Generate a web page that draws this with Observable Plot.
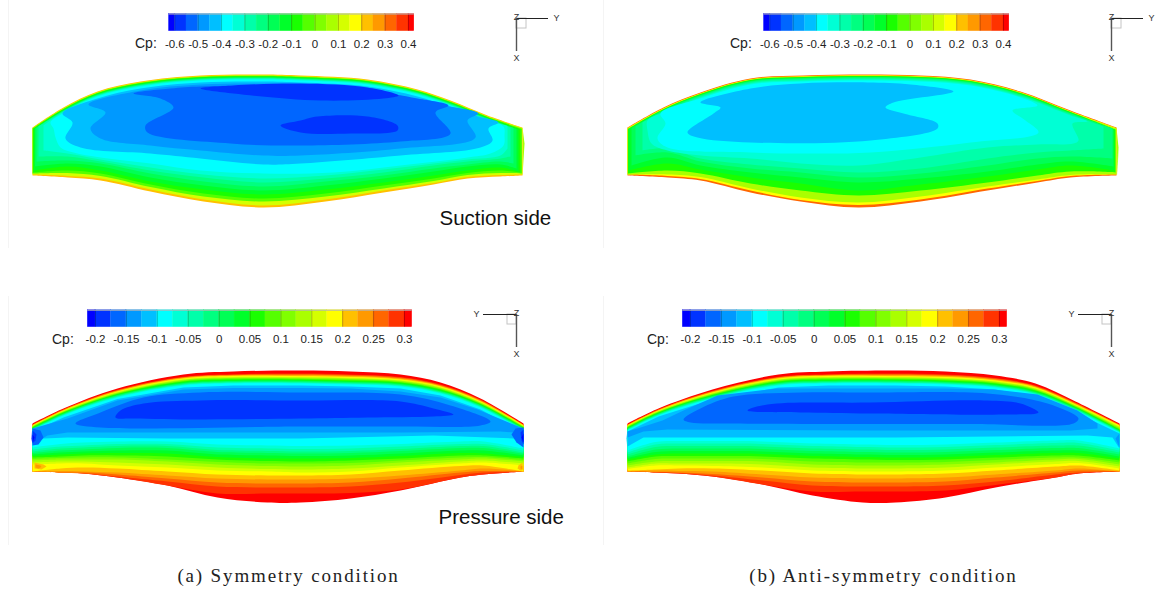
<!DOCTYPE html>
<html>
<head>
<meta charset="utf-8">
<script src="https://cdn.jsdelivr.net/npm/d3@7"></script>
<script src="https://cdn.jsdelivr.net/npm/@observablehq/plot@0.6"></script>
<style>
html,body{margin:0;padding:0;background:#fff}
#page{position:relative;width:1156px;height:592px;overflow:hidden;background:#fff}
#page svg{position:absolute;background:transparent;max-width:none}
.cap{position:absolute;top:565px;font-family:"Liberation Serif",serif;font-size:19px;color:#222;transform:translateX(-50%);letter-spacing:1.85px;white-space:nowrap}
</style>
</head>
<body>
<div id="page"></div>
<script>
// ---- colour bands ----
const palette = ["#0000ff","#0033ff","#0066ff","#0099ff","#00bfff","#00ffff","#00ffd5","#00ffaa","#00ff80","#00ff55","#00ff2a","#1aff00","#55ff00","#80ff00","#aaff00","#d5ff00","#ffff00","#ffc000","#ff9900","#ff6600","#ff3300","#ff0000"];
const suctionThresholds = [-0.6,-0.55,-0.5,-0.45,-0.4,-0.35,-0.3,-0.25,-0.2,-0.15,-0.1,-0.05,0,0.05,0.1,0.15,0.2,0.25,0.3,0.35,0.4];
const pressureThresholds = [-0.2,-0.175,-0.15,-0.125,-0.1,-0.075,-0.05,-0.025,0,0.025,0.05,0.075,0.1,0.125,0.15,0.175,0.2,0.225,0.25,0.275,0.3];
const suctionTicks = [-0.6,-0.5,-0.4,-0.3,-0.2,-0.1,0,0.1,0.2,0.3,0.4];
const pressureTicks = [-0.2,-0.15,-0.1,-0.05,0,0.05,0.1,0.15,0.2,0.25,0.3];

// ---- symmetry condition, suction side ----
const symSuctionTopX = [32,63,97,140,200,263,300,367,417,450,487,522];
const symSuctionBotX = [522,500,467,433,383,325,263,203,150,100,67,32];
const symSuctionUnder = [[0.075,[522,127,524,143,522,175]]];
const symSuctionBands = [
[0.225,32,522,[127,107,91,81,75,74,75,79,89,100,115,127],[175,176,178,184,192,201,207,201,191,180,177,175]],
[0.125,32,522,[127.5,107.7,91.7,81.7,75.7,74.7,75.7,79.7,89.7,100.7,115.7,127.5],[174,174.5,176.5,182.5,190,199,205,199,189,178,175.5,174]],
[-0.025,32,521.5,[128,108.3,92.3,82.3,76.3,75.3,76.3,80.3,90.3,101.3,116.3,128],[173,172.5,174.5,180.5,188,196,201,196,186.5,175.5,172.5,173]],
[-0.075,32.5,520,[128.5,108.8,92.8,82.8,76.8,75.8,76.8,80.8,90.8,101.8,116.8,128.5],[172,170,172.5,178,185,193,198,193,184,173,170,172]],
[-0.125,33.5,518,[128.5,109.3,93.3,83.3,77.3,76.3,77.3,81.3,91.3,102.3,117.3,129],[171,167,170,175,182,189,194,189,181,170,166,170]],
[-0.175,34.5,516,[128,109.8,93.8,83.8,77.8,76.8,77.8,81.8,91.8,102.8,117.8,128.5],[168,164,166,171,178,185,190,185,177,166,163,166]],
[-0.225,36,513,[127.5,110.3,94.3,84.3,78.3,77.3,78.3,82.3,92.3,103.3,118.3,127.5],[163,161,164,168,175,181,186,181,173,163,160,161]],
[-0.275,38,510,[126,110.8,94.8,84.8,78.8,77.8,78.8,82.8,92.8,103.8,118.8,127],[156,158,161,165,172,178,182,177,170,161,156,156]],
[-0.325,43,507,[125,111.3,95.3,85.3,79.3,78.3,79.3,83.3,93.3,104.3,119.3,125.5],[148,155,159,163,169,175,178,174,167,159,153,150]]
];
const symSuctionLobes = [
[-0.375,[50,122,63,112.5,97,96,140,86,200,80,263,79,300,80,367,84,417,94,450,105,487,120,503,126,504,135,503,145,490,153,467,157,400,165,333,172,263,173,200,170,150,163,100,157,73,152,60,147,55,137,53,128]],
[-0.425,[62,113,97,98,140,88,200,82,263,81,300,82,367,86,417,96,450,107,478,116,498,122,488,128,492,140,480,147,400,155,300,163,263,164,200,158,150,153,80,147,65,138,72,122]],
[-0.475,[88,104,140,90,200,84,263,83,300,84,367,88,417,99,450,106,478,113,467,120,475,137,400,148,300,155,263,155,200,150,150,145,100,138,90,128,105,112]],
[-0.525,[133,93,170,88,200,86,263,85,300,85,367,90,417,98,448,105,435,112,450,133,400,141,300,145,230,143,147,132,145,125,173,107,160,98]],
[-0.575,[200,88,233,85,300,83,367,87,398,95,383,98,320,100,233,93]],
[-0.575,[280,125,300,120,317,116,367,116,397,125,397,130,350,133,300,132]]
];

// ---- anti-symmetry condition, suction side ----
const antiSuctionTopX = [32,68,105,155,208,272,325,375,425,475,521];
const antiSuctionBotX = [522,475,442,392,325,263,205,155,105,72,32];
const antiSuctionUnder = [[0.075,[521,127,523,147,522,175]]];
const antiSuctionBands = [
[0.325,32,521,[127,107,92,78,75,74,75,79,91,110,127],[175,177,182,190,201,207,201,192,180,177,175]],
[0.175,32,521,[127.5,107.7,92.7,78.7,75.7,74.7,75.7,79.7,91.7,110.7,127.5],[174,175.5,180.5,188,199,204.5,199.5,190,178.5,175.5,174]],
[0.075,32,521,[128,108.2,93.2,79.2,76.2,75.2,76.2,80.2,92.2,111.2,128],[174,174.5,179,186,196,202,197,188,176.5,174,174]],
[-0.075,32.5,520,[128.5,108.7,93.5,79.5,76.5,75.5,76.5,80.5,92.5,111.5,129],[172,171,175,182,190,195,190,183,173,170,173]],
[-0.125,33,519,[128.5,109,94,80,77,76,77,81,93,112,129],[170,165,169,176,184,190,183,177,169,163,170]],
[-0.175,36,518,[127.5,109.5,94.5,80.5,77.5,76.5,77.5,81.5,93.5,112.5,129],[166,161,164,171,178,182,177,172,165,157,165]],
[-0.225,40,517,[126,110,95,81,78,77,78,82,94,113,128],[158,156,158,165,173,177,172,168,161,152,155]],
[-0.275,47,508,[122,111,96,82,79,78,79,83,95,114,126],[148,150,152,158,168,172,168,164,158,148,150]]
];
const antiSuctionLobes = [
[-0.325,[52,120,68,112,105,97,155,83,208,80,272,79,325,80,375,84,425,96,475,115,492,121,477,123,483,140,478,143,442,144,392,147,325,157,263,165,205,163,155,158,105,155,72,150,56,143,52,130]],
[-0.375,[65,113,105,98,155,84,208,81,272,80,325,81,375,85,425,97,442,105,417,110,430,120,443,132,375,142,275,152,205,153,155,152,72,147,62,138,70,123]],
[-0.425,[105,102,155,88,205,83,272,82,315,84,358,91,298,102,290,107,308,113,342,123,342,128,275,140,155,142,102,137,92,132,118,113,125,107]]
];

// ---- symmetry condition, pressure side ----
const symPressureTopX = [32,63,117,183,233,300,350,400,440,480,523];
const symPressureBotX = [523,483,460,400,350,300,267,217,167,117,83,60,33];
const symPressureUnder = [[-0.2125,[32,423,31,438,32,445]]];
const symPressureBands = [
[0.3125,32,523,[423,408,388,374,371,370,371,374,382,398,423],[471,474,477,490,498,502,502,497,485,477,473,472,471]],
[0.2875,32,523,[424,408.8,389.3,376.3,373.7,373,374,376.5,384,399,424],[471,474,477,489,492.5,493,493,493,485,477,473,472,471]],
[0.2625,32,523,[424.2,409,389.7,376.7,374.2,373.7,374.6,377.1,384.5,399.5,424.2],[471,472,474.5,482,486,487,487,486,481,476,473,472,471]],
[0.2375,32,523,[424.5,409.4,390.1,377.1,374.6,374.3,375.2,377.7,385,400,424.5],[471,470.5,472,478,482,483,483,482,478,474,472,472,471]],
[0.2125,32,523,[424.8,409.7,390.5,377.5,375,375,375.8,378.3,385.5,400.5,424.8],[471,468,470,475,478,479,479,478,475,472,471,470.5,471]],
[0.1875,32,523,[425,410,391,378,375.5,375.7,376.5,379,386,401,425],[471,465,465.5,470,474,475,475,474,471,468,467,468,471]],
[0.1625,32,523,[425.4,410.4,391.5,378.6,376.2,376.4,377.2,379.6,386.6,401.5,425.4],[465,462,463,467,471,472,471,470,467,465,463,463,464]],
[0.1375,32,523,[425.8,410.8,392,379.2,376.9,377,377.9,380.2,387.2,402,425.8],[463,460,461,465,468,469,468.5,467,464,462,461,461,462]],
[0.1125,32,523,[426.2,411.2,392.5,379.8,377.6,377.7,378.6,380.8,387.8,402.5,426.2],[461,458,459,462,465,466,465.5,464,461,459,459,459,460]],
[0.0875,32,523,[426.6,411.6,393,380.4,378.3,378.3,379.3,381.4,388.4,403,426.6],[459.5,456.5,457,460,462.5,463,463,461.5,459,457,457,457.5,458.5]],
[0.0625,32,523,[427,412,393.5,381,379,379,380,382,389,403.5,427],[458,455,455,458,460,461,460.5,459,456,455,455,456,457]],
[0.0375,32,523,[427.5,412.5,394,381.7,379.7,379.7,380.7,382.7,389.7,404,427.5],[456.5,453,452.5,455.5,457.5,458,458,456.5,453,452.5,453,454,455.5]],
[0.0125,32,523,[428,413,394.5,382.4,380.4,380.3,381.4,383.4,390.4,404.5,428],[455,450,450,453,455,455.5,455,454,450,450,451,452,454]],
[-0.0125,32,523,[428.5,413.5,395.1,383,381,381,382,384,391,405,428.5],[453.5,447.5,447.5,450.5,452.5,453,452.5,451.5,447.5,447.5,449,450,452.5]],
[-0.0375,32,523,[429,414,395.7,383.7,381.7,381.7,382.7,384.7,391.7,405.7,429],[452,445.5,445.5,448.5,450.5,451,450.5,449.5,445.5,445.5,447,448,451]],
[-0.0625,32,523,[429.5,414.5,396.3,384.3,382.3,382.3,383.3,385.3,392.3,406.3,429.5],[450,443.5,443.5,446,448,448.5,448,447,443.5,443.5,445,446,449]],
[-0.0875,32,523,[430,415,397,385,383,383,384,386,393,407,430],[448,441,441,443.5,445,445.5,445,444,441,441,442,443.5,447]]
];
const symPressureEdges = [
[-0.1125,[32,431,63,417,117,398.5,183,387,233,385,300,385,350,386,400,388,440,395,480,409,523,432,523,444,513,438,433,435,300,438,167,438,67,437,43,438,32,445]],
[-0.1375,[32,428,67,418,117,400,183,389,233,387.5,300,387.5,350,388,400,391,440,397,477,409,513,424,523,428,523,442,513,432,500,431,400,432,300,432,167,432,67,432,47,435,33,443]],
[-0.1625,[32,428,40,430,43,437,38,444,32,445]],
[-0.1625,[523,427,515,428,511,434,516,442,523,447]],
[-0.1875,[32,430,36,434,35,440,32,443]],
[-0.1875,[523,429,520,432,521,440,523,444]],
[-0.2125,[32,434,34,437,32,442]],
[-0.2125,[523,433,521,437,523,442]],
[0.2125,[34,462,43,464,46,466,41,469,34,468]],
[0.2375,[35,464,40,465,41,466.5,38,468,35,467]],
[0.2125,[522,462,518,465,517,468,520,470,522,470]],
[0.2375,[522,465,520,466,520,468,522,469]]
];
const symPressureLobes = [
[-0.1625,[75,423,100,412,143,397,200,392,300,392,400,394,450,405,490,421,480,425,400,426,300,426,100,427]],
[-0.1875,[115,417,120,410,143,403,200,400,300,400,400,401,433,408,453,414,433,416,367,417,300,418,200,419,133,418]]
];

// ---- anti-symmetry condition, pressure side ----
const antiPressureTopX = [32,63,117,183,233,300,350,400,440,480,523];
const antiPressureBotX = [524,483,460,400,350,300,267,217,167,117,83,60,33];
const antiPressureUnder = [[-0.1125,[32,428,31,438,32,450]]];
const antiPressureBands = [
[0.3125,32,524,[423,408,389,374,371,370,371,375,383,401,423],[471,473,477,487,497,502,502,495,484,476,473,472,471]],
[0.2875,32,524,[424,408.8,390.3,376.3,373.7,373,374,377.5,385,402,424],[471,473,477,484.5,490,491,491,491,484,476,473,472,471]],
[0.2625,32,524,[424.2,409,390.7,376.7,374.2,373.7,374.6,378.1,385.5,402.5,424.2],[471,472,474,481,485,486,486,485,480,475,472.5,472,471]],
[0.2375,32,524,[424.5,409.4,391.1,377.1,374.6,374.3,375.2,378.7,386,403,424.5],[471,470,472,477,481,482,482,481,477,473.5,472,471.5,471]],
[0.2125,32,524,[424.8,409.7,391.5,377.5,375,375,375.8,379.3,386.5,403.5,424.8],[471,468,470,474,477,478,478,477,474,471,470.5,470,471]],
[0.1875,32,524,[425,410,392,378,375.5,375.7,376.5,380,387,404,425],[470,465,466,470,473,474,474,473,470,468,468,469,470]],
[0.1625,32,524,[425.4,410.4,392.5,378.6,376.2,376.4,377.2,380.6,387.6,404.5,425.8],[468,462.5,463.5,467,470,471,471,470,467,465.5,465,465,468.5]],
[0.1375,32,524,[425.8,410.8,393,379.2,376.9,377,377.9,381.2,388.2,405,426.6],[466,460.5,461,464,467,468,468,467,464,463,463,463,467]],
[0.1125,32,524,[426.2,411.2,393.5,379.8,377.6,377.7,378.6,381.8,388.8,405.5,427.4],[464,458.5,459,462,464,465,465,464,461,460.5,460.5,461,465]],
[0.0875,32,524,[426.6,411.6,394,380.4,378.3,378.3,379.3,382.4,389.4,406,428.2],[462,457,457,459.5,461.5,462,462,461,458.5,458,458,458.5,463]],
[0.0625,32,524,[427,412,394.5,381,379,379,380,383,390,406.5,429],[460,455,455,457,459,459.5,459,458,456,455.5,455.5,456,461]],
[0.0375,32,524,[427.5,412.5,395,381.7,379.7,379.7,380.7,383.7,390.7,407,429.5],[458,452.5,452.5,454.5,456.5,457,456.5,455.5,453.5,453,453,454,459]],
[0.0125,32,524,[428,413,395.5,382.4,380.4,380.3,381.4,384.4,391.4,407.5,430],[456,450,450,452,454,454.5,454,453,451,450.5,450.5,451.5,457.5]],
[-0.0125,32,524,[428.5,413.5,396.1,383,381,381,382,385,392,408,430.5],[454,447.5,447.5,449.5,451.5,452,451.5,450.5,448.5,448,448,449,456]],
[-0.0375,32,524,[429,414,396.7,383.7,381.7,381.7,382.7,385.7,392.7,408.7,431],[452,445,445,447,449,449.5,449,448,446,445.5,445.5,446.5,454]],
[-0.0625,32,524,[429.5,414.5,397.3,384.3,382.3,382.3,383.3,386.3,393.3,409.3,431.5],[450,442.5,442.5,444.5,446.5,447,446.5,445.5,443.5,443,443,444,452]],
[-0.0875,32,524,[430,415,398,385,383,383,384,387,394,410,432],[448,440,440,442,444,444.5,444,443,441,440.5,440.5,441.5,450]]
];
const antiPressureEdges = [
[-0.1125,[32,431,63,416,117,399,183,387,233,385,300,385,350,386,400,389,440,396,480,412,524,433,524,448,517,437,492,435,300,437,150,437,48,437,32,446]],
[-0.1375,[32,431,45,427,67,420,88,410,122,395,182,388,238,388,300,388,350,388,398,389,442,394,482,410,502,423,502,428,475,430,275,430,72,429,48,431,32,437]],
[-0.1375,[524,433,520,438,524,447]]
];
const antiPressureLobes = [
[-0.1625,[88,419,105,408,138,396,205,392,275,392,392,393,452,403,483,418,478,423,375,423.5,275,423.5,138,423,95,422]],
[-0.1875,[152,410,172,404,275,402,392,400,425,403,443,412,408,414,275,413,205,412]]
];

// ---- text and axis triads ----
const sideLabels = {suction:{text:"Suction side",x:439,y:218},pressure:{text:"Pressure side",x:438,y:517}};
const triadTop = {cx:516,cy:18,yEnd:548,xEnd:51,box:[516,18,526,28],labels:[["Y",556,18],["Z",516,17],["X",516,58]]};
const triadBottom = {cx:516,cy:314,yEnd:483,xEnd:347,box:[507,314,516,324],labels:[["Y",476,314],["Z",516,313],["X",516,354]]};
const legendTop = {x0:174.3,x1:408,lo:-0.625,hi:0.425,a:-0.6,b:0.4,y1:13.5,y2:30.7,label:43.5,cpX:134.5};
const legendBottom = {x0:95,x1:404,lo:-0.2125,hi:0.3125,a:-0.2,b:0.3,y1:309.7,y2:326.7,label:339,cpX:51.5};

const toPairs = (flat, cp) => d3.range(0, flat.length, 2).map(i => ({x:flat[i], y:flat[i+1], cp}));
// The wing's two corners repeat their point, which keeps them sharp under the curve.
function ringOf([cp, xL, xR, top, bot], topX, botX) {
  const pts = [];
  top.forEach((y,i) => pts.push({x: i===0 ? xL : i===top.length-1 ? xR : topX[i], y, cp}));
  pts.push({...pts[pts.length-1]});
  bot.forEach((y,i) => {
    pts.push({x: i===0 ? xR : i===bot.length-1 ? xL : botX[i], y, cp});
    if (i===0) pts.push({...pts[pts.length-1]});
  });
  return pts;
}
const poly = (pts, curve) => Plot.line(pts, {x:"x", y:"y", fill:"cp", stroke:"none", curve});

function panel({left, top, width, height, yDomain, thresholds, ticks, legend, triad, side, topX, botX, under, bands, edges, lobes}) {
  const lx = d3.scaleLinear([legend.a, legend.b], [legend.x0, legend.x1]);
  const edgesCp = [legend.lo, ...thresholds, legend.hi];
  const swatches = d3.pairs(edgesCp).map(([a,b]) => ({a, b, cp:(a+b)/2}));
  const font = "Liberation Sans";
  const marks = [
    Plot.ruleX([8], {x:d=>d, y1:yDomain[1], y2:yDomain[1]+(yDomain[1]?249:248), stroke:"#f4f4f4"}),
    ...under.map(([cp,f]) => poly(toPairs(f,cp), "linear")),
    ...bands.map(b => poly(ringOf(b,topX,botX), "catmull-rom")),
    ...edges.map(([cp,f]) => poly(toPairs(f,cp), "linear")),
    ...lobes.map(([cp,f]) => poly(toPairs(f,cp), "catmull-rom-closed")),
    Plot.rect(swatches, {x1:d=>lx(d.a), x2:d=>lx(d.b), y1:legend.y1, y2:legend.y2, fill:"cp", stroke:"cp", strokeWidth:0.3}),
    Plot.ruleX(ticks, {x:d=>lx(d), y1:legend.y1, y2:legend.y2, stroke:"#000", strokeOpacity:0.25}),
    Plot.ruleY([legend.y1], {x1:lx(legend.lo), x2:lx(legend.hi), y:d=>d, stroke:"#b5b5b5"}),
    Plot.text(ticks, {x:d=>lx(d), y:legend.label, text:d=>String(d), fontSize:11.5, fontFamily:font, fill:"#222"}),
    Plot.text(["Cp:"], {x:legend.cpX, y:legend.label, text:d=>d, fontSize:14, fontFamily:font, textAnchor:"start", fill:"#222"}),
    Plot.rect([triad.box], {x1:d=>d[0], y1:d=>d[1], x2:d=>d[2], y2:d=>d[3], fill:"none", stroke:"#c4c4c4"}),
    Plot.ruleY([triad.cy], {x1:triad.cx, x2:triad.yEnd, y:d=>d, stroke:"#222", strokeWidth:1}),
    Plot.ruleX([triad.cx], {y1:triad.cy, y2:triad.xEnd, x:d=>d, stroke:"#555", strokeWidth:1.4}),
    Plot.text(triad.labels, {x:d=>d[1], y:d=>d[2], text:d=>d[0], fontSize:9, fontFamily:font, fill:"#333"})
  ];
  if (side) marks.push(Plot.text([side], {x:"x", y:"y", text:"text", fontSize:20.5, fontFamily:font, textAnchor:"start", fill:"#111"}));
  const svg = Plot.plot({
    width, height, margin:0,
    x:{domain:[0,width], axis:null},
    y:{domain:yDomain, axis:null},
    color:{type:"threshold", domain:thresholds, range:palette},
    marks
  });
  svg.style.left = left + "px";
  svg.style.top = top + "px";
  document.getElementById("page").appendChild(svg);
}

panel({left:0,top:0,width:595,height:296,yDomain:[296,0],thresholds:suctionThresholds,ticks:suctionTicks,legend:legendTop,triad:triadTop,side:sideLabels.suction,topX:symSuctionTopX,botX:symSuctionBotX,under:symSuctionUnder,bands:symSuctionBands,edges:[],lobes:symSuctionLobes});
panel({left:595,top:0,width:561,height:296,yDomain:[296,0],thresholds:suctionThresholds,ticks:suctionTicks,legend:legendTop,triad:triadTop,side:null,topX:antiSuctionTopX,botX:antiSuctionBotX,under:antiSuctionUnder,bands:antiSuctionBands,edges:[],lobes:antiSuctionLobes});
panel({left:0,top:296,width:595,height:296,yDomain:[592,296],thresholds:pressureThresholds,ticks:pressureTicks,legend:legendBottom,triad:triadBottom,side:sideLabels.pressure,topX:symPressureTopX,botX:symPressureBotX,under:symPressureUnder,bands:symPressureBands,edges:symPressureEdges,lobes:symPressureLobes});
panel({left:595,top:296,width:561,height:296,yDomain:[592,296],thresholds:pressureThresholds,ticks:pressureTicks,legend:legendBottom,triad:triadBottom,side:null,topX:antiPressureTopX,botX:antiPressureBotX,under:antiPressureUnder,bands:antiPressureBands,edges:antiPressureEdges,lobes:antiPressureLobes});

for (const [text,x] of [["(a) Symmetry condition",288.5],["(b) Anti-symmetry condition",883.5]]) {
  const d = document.createElement("div");
  d.className = "cap"; d.textContent = text; d.style.left = x + "px";
  document.getElementById("page").appendChild(d);
}
</script>
</body>
</html>
